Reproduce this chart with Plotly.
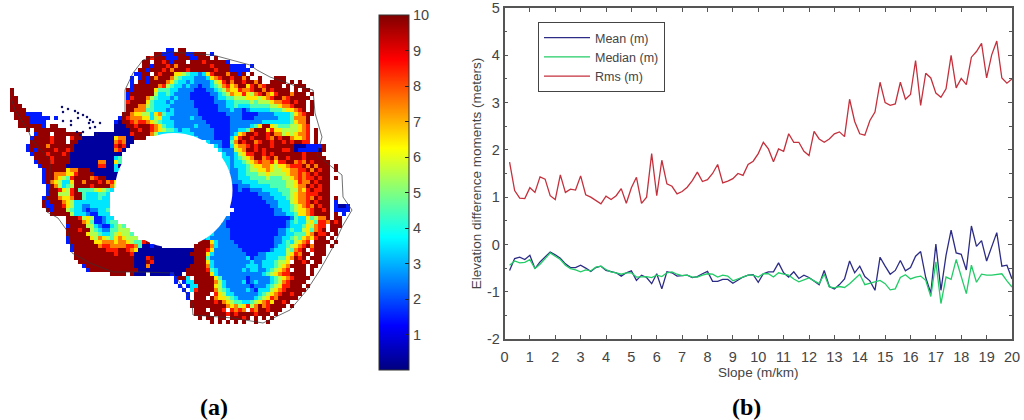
import plotly.graph_objects as go

# ---------- panel (b) data ----------
slope = [round(0.2 * i, 1) for i in range(1, 101)]
mean_m = [-.55,-.30,-.27,-.32,-.23,-.51,-.37,-.27,-.16,-.22,-.29,-.41,-.49,-.49,-.44,-.50,-.57,-.49,-.46,-.55,
          -.58,-.60,-.67,-.60,-.56,-.76,-.65,-.70,-.83,-.62,-.94,-.58,-.60,-.67,-.66,-.65,-.70,-.68,-.62,-.57,
          -.78,-.78,-.74,-.74,-.82,-.75,-.69,-.65,-.64,-.80,-.62,-.58,-.58,-.39,-.60,-.69,-.58,-.72,-.65,-.70,
          -.77,-.85,-.55,-.89,-.94,-.85,-.73,-.35,-.60,-.46,-.68,-.77,-.97,-.27,-.46,-.63,-.55,-.34,-.56,-.49,
          -.25,-.15,-.70,-1.03,.01,-.97,-.23,.30,-.18,-.21,-.54,.39,-.04,.08,-.35,-.06,.25,-.46,-.44,-.73]
median_m = [-.44,-.35,-.39,-.38,-.32,-.51,-.42,-.30,-.18,-.25,-.32,-.44,-.51,-.54,-.58,-.54,-.56,-.48,-.46,-.53,
            -.58,-.60,-.63,-.60,-.60,-.69,-.68,-.68,-.70,-.65,-.68,-.60,-.58,-.63,-.66,-.65,-.69,-.69,-.65,-.62,
            -.63,-.69,-.65,-.67,-.77,-.73,-.68,-.65,-.65,-.69,-.62,-.62,-.69,-.60,-.63,-.65,-.73,-.79,-.75,-.71,
            -.77,-.83,-.63,-.90,-.92,-.89,-.91,-.83,-.73,-.63,-.85,-.82,-.80,-.76,-.83,-.96,-.94,-.70,-.64,-.73,
            -.69,-.67,-.76,-1.10,-.37,-1.25,-.69,-.74,-.32,-.70,-1.04,-.44,-.80,-.63,-.65,-.65,-.63,-.62,-.77,-.90]
rms_m = [1.74,1.14,.98,.97,1.20,1.10,1.43,1.38,1.03,.95,1.47,1.10,1.17,1.15,1.45,1.05,1.00,.93,.86,1.02,
         .95,1.03,1.18,.87,1.20,1.42,.87,1.00,1.92,1.03,1.78,1.28,1.23,1.07,1.12,1.21,1.35,1.53,1.33,1.37,
         1.50,1.69,1.30,1.34,1.39,1.50,1.46,1.69,1.76,1.92,2.16,2.02,1.75,2.02,1.97,2.34,2.16,2.16,1.97,1.88,
         2.39,2.23,2.16,2.23,2.34,2.38,2.28,3.07,2.60,2.34,2.31,2.62,2.80,3.43,3.00,2.94,2.97,3.43,3.07,3.17,
         3.89,2.94,3.62,3.52,3.20,3.11,3.29,4.00,3.31,3.51,3.38,3.96,4.08,4.25,3.52,4.01,4.30,3.52,3.41,3.50]
x_ticks = list(range(0, 21))
y_ticks = list(range(-2, 6))
bar_ticks = list(range(1, 11))

# ---------- panel (a) data: one digit per map cell, '.' = no data ----------
map_levels = [0.3, 1.5, 2.5, 3.5, 4.5, 5.5, 6.5, 7.5, 8.5, 9.8]
map_rows = [
"..... ..... ..... ..... ..... ..... ..... ..... .11.9 9.... ..... ..... ..... ..... ..... ..... ..... .....",
"..... ..... ..... ..... ..... ..... ..... ...99 11199 91199 9.1.. ..... ..... ..... ..... ..... ..... .....",
"..... ..... ..... ..... ..... ..... ..... .9899 91119 99119 99.9. ..... ..... ..... ..... ..... ..... .....",
"..... ..... ..... ..... ..... ..... ..... 99.99 89199 9.999 89999 91... ..... ..... ..... ..... ..... .....",
"..... ..... ..... ..... ..... ..... ..... 99199 98979 99999 99899 99111 1.1.. ..... ..... ..... ..... .....",
"..... ..... ..... ..... ..... ..... ....9 91999 89799 98999 99989 99111 11... ..... ..... ..... ..... .....",
"..... ..... ..... ..... ..... ..... ...11 99.98 99966 54332 36899 97991 9.9.. ..... ..... ..... ..... .....",
"..... ..... ..... ..... ..... ..... ..1.1 91979 99754 33322 23678 99899 79..9 ...99 9.... ..... ..... .....",
"..... ..... ..... ..... ..... ..... ..1.9 91999 97643 32322 22356 89799 89979 ..999 9.9.9 ..... ..... .....",
"..... ..... ..... ..... ..... ..... ..199 99997 85433 23221 22345 78679 96897 89999 .9.99 9.... ..... .....",
"..9.. ..... ..... ..... ..... ..... .9199 99964 44332 22211 12234 57668 77899 79899 99.9. 99... ..... .....",
"..9.. ..... ..... ..... ..... ..... .1999 99953 34322 22111 11223 45766 86578 97689 99799 9.9.. ..... .....",
"..99. ..... ..... ..... ..... ..... .1899 97543 33232 22111 11123 34455 56665 67899 78999 99... ..... .....",
"..99. ..... ..... ..... ..... ..... .8999 96433 32322 22211 11122 23344 44545 55677 88989 9.9.. ..... .....",
"..999 ..... ..... ..... ..... ..... .9997 75433 33222 22211 11112 23343 33444 44556 77899 9.9.. ..... .....",
"..999 9.... ..... ..... ..... ..... .9977 74433 32322 22221 11112 22322 12333 33444 56678 9.9.. ..... .....",
"...99 91111 ..... ..... ..... ..... 99766 55367 43322 22221 11111 12222 11112 22233 33467 899.. ..... .....",
"...99 99111 11.1. ..... ..... ....1 98777 66356 33222 22322 11111 11222 11122 22223 33477 79... ..... .....",
"....9 99111 1.... ..... ..... ...10 99878 87654 33322 22222 21111 11222 22222 33333 33467 79... ..... .....",
"....9 99999 1.99. ..... ..... ...00 09989 99876 43322 22232 22111 11222 22346 99654 44556 78... ..... .....",
"..... .9.99 99999 9.... ..... ...00 00998 99876 54432 33222 22211 11223 34799 96866 55556 78.9. ..... .....",
"..... ...19 99.99 99999 ...00 00000 00899 99753 33333 33322 22211 11236 79989 98977 56567 78.9. ..... .....",
"..... ..199 99899 9.899 00000 00067 70099 9.... ..... ...32 22211 11368 99899 98798 99766 78.9. ..... .....",
"..... ..999 99899 9.990 00000 00078 700.. ..... ..... ..... .3222 11479 89978 99899 89899 88.9. ..... .....",
"..... .1999 97999 99900 00000 00089 80... ..... ..... ..... ...32 11367 78989 99899 99900 01111 9.... .....",
"..... .1919 99989 98900 00000 00078 0.... ..... ..... ..... ....3 22256 79989 89999 88901 11110 9.... .....",
"..... ..199 98999 89000 00000 00000 ..... ..... ..... ..... ..... 32235 68899 89899 99999 89999 ..... .....",
"..... ...99 99899 99000 00000 00034 ..... ..... ..... ..... ..... 33234 56799 78979 98999 89999 9.... .....",
"..... ...19 99899 99000 00007 70064 ..... ..... ..... ..... ..... 33233 45678 77868 89978 79899 99... .....",
"..... ....1 99999 90000 00008 80030 ..... ..... ..... ..... ..... 33233 34566 77656 67888 97979 99.9. .....",
"..... ..... 19999 96779 99000 00033 ..... ..... ..... ..... ..... 33223 34556 67655 66778 89798 99.9. .....",
"..... ..... 19977 76689 99900 00003 ..... ..... ..... ..... ..... 32223 34445 56555 56778 78989 99... .....",
"..... ..... 19976 54899 99789 9000. ..... ..... ..... ..... ..... 22223 33444 45444 55678 78898 99.9. .....",
"..... ..... 19765 33699 79998 97860 ..... ..... ..... ..... ..... 22222 33334 44444 45568 77989 99... .....",
"..... ..... .1975 34599 99899 99750 ..... ..... ..... ..... ..... 21112 22333 33444 45567 79898 99... .....",
"..... ..... .1998 65894 44456 543.. ..... ..... ..... ..... ..... ..112 11222 33334 44557 68988 99... .....",
"..... ..... .1995 55899 43334 43... ..... ..... ..... ..... ..... ..111 11112 22333 44567 78889 99... .....",
"..... ..... 19997 66799 43334 33... ..... ..... ..... ..... ..... ..111 11111 22233 34567 78798 99.9. .....",
"..... ..... 91999 76533 33333 33... ..... ..... ..... ..... ..... ..111 11111 12223 33567 78989 99.1. .....",
"..... ..... 91199 86533 22333 33... ..... ..... ..... ..... ..... ..111 11111 11223 33456 78798 99.10 01...",
"..... ..... .9199 95433 21223 34... ..... ..... ..... ..... ..... ...11 11111 11122 33456 67899 89.11 11...",
"..... ..... ..999 99533 32113 33... ..... ..... ..... ..... ..... ..111 11111 11122 23346 67899 99.9. 1....",
"..... ..... ..... .9998 56511 233.. ..... ..... ..... ..... ..... 22111 11111 11111 11243 36457 79.99 .....",
"..... ..... ..... .9999 76411 2344. ..... ..... ..... ..... ...11 21111 11111 11111 12343 35648 87989 .....",
"..... ..... ..... .1999 95532 11345 4.... ..... ..... ..... ...22 21111 11111 11111 12333 46578 8.999 .....",
"..... ..... ..... .9998 99543 22445 55... ..... ..... ..... ..222 22111 11111 11112 23433 56478 9.99. .....",
"..... ..... ..... .9999 96554 33456 554.. ..... ..... ..... .3322 22111 11111 11112 23344 46798 89.9. .....",
"..... ..... ..... .1999 99657 65467 6555. ..... ..... ..... 23222 22111 11111 11122 33454 67689 9.9.. .....",
"..... ..... ..... .1999 99966 77767 76544 89... ..... ....9 99632 22211 11111 11122 34356 78.99 99.9. .....",
"..... ..... ..... ..199 99997 88777 78874 00100 ..... ...99 99732 22221 11111 11123 34567 89799 9.9.. .....",
"..... ..... ..... ..199 99999 98889 98760 00000 00000 00099 98622 22222 11111 11233 35478 9.899 9.... .....",
"..... ..... ..... ...99 99999 99989 99800 00000 00000 00999 96322 22222 21112 23333 35687 99.99 9.... .....",
"..... ..... ..... ...99 99999 99999 99900 08900 00000 00099 94222 22222 23122 23334 46798 9.999 ..... .....",
"..... ..... ..... ....9 99999 99999 99900 09800 00000 00099 96322 22222 22322 33345 56.99 89.99 ..... .....",
"..... ..... ..... ..... 19999 99999 99900 07000 00000 00999 97322 22222 23332 33345 67999 9.99. ..... .....",
"..... ..... ..... ..... .1999 99999 99990 00000 00000 09999 98432 22222 32332 23456 78.99 9.9.. ..... .....",
"..... ..... ..... ..... ..... ..999 9.900 0.000 00100 .9999 99632 22222 22222 34567 88999 9.9.. ..... .....",
"..... ..... ..... ..... ..... ..... ..... ..... ...19 93.99 99964 22222 21222 22345 67899 99... ..... .....",
"..... ..... ..... ..... ..... ..... ..... ..... ...1. 13399 99975 32222 31232 22345 78999 9.... ..... .....",
"..... ..... ..... ..... ..... ..... ..... ..... ....1 .1339 99965 32222 22122 23456 88999 .9... ..... .....",
"..... ..... ..... ..... ..... ..... ..... ..... ..... 1.389 99975 43222 23213 33567 89999 9.... ..... .....",
"..... ..... ..... ..... ..... ..... ..... ..... ..... .1.99 99.86 53322 22223 45678 99899 ..... ..... .....",
"..... ..... ..... ..... ..... ..... ..... ..... ..... .1.99 9.976 65432 22234 56879 9999. ..... ..... .....",
"..... ..... ..... ..... ..... ..... ..... ..... ..... ..999 99989 76544 33456 78699 89... ..... ..... .....",
"..... ..... ..... ..... ..... ..... ..... ..... ..... ..999 99999 97675 68579 78999 9.9.. ..... ..... .....",
"..... ..... ..... ..... ..... ..... ..... ..... ..... ...99 9.999 8.878 7.879 98999 ..... ..... ..... .....",
"..... ..... ..... ..... ..... ..... ..... ..... ..... ...99 99.99 98989 99989 99.9. ..... ..... ..... .....",
"..... ..... ..... ..... ..... ..... ..... ..... ..... ....9 .99.9 9.999 89.9. 9.9.. ..... ..... ..... .....",
"..... ..... ..... ..... ..... ..... ..... ..... ..... ..... ..9.9 .9.9. 9..9. .9... ..... ..... ..... .....",
]
coast_x = [12,11,15,28,32,50,50,45,47,58,68,72,90,113,140,173,180,192,193,217,233,263,290,307,320,333,342,352,343,342,317,322,315,313,293,270,257,250,213,170,143,133,125,125,125]
coast_y = [90,98,110,130,140,160,187,203,212,218,232,253,263,272,272,273,283,303,315,317,318,323,310,290,270,247,227,210,197,175,155,137,113,90,85,77,70,65,55,52,60,73,90,103,117]
dots_x = [62,68,63,75,78,83,87,63,71,71,78,90,93,89,100,90,95,77,83,80,97]
dots_y = [107,109,112,111,113,115,117,121,121,125,118,120,122,123,123,128,127,132,132,135,134]

z = [[map_levels[int(c)] if c != "." else None for c in r.replace(" ", "")] for r in map_rows]

W, H = 1024, 420
jet = [[0, "rgb(0,0,128)"], [0.125, "rgb(0,0,255)"], [0.375, "rgb(0,255,255)"],
       [0.625, "rgb(255,255,0)"], [0.875, "rgb(255,0,0)"], [1, "rgb(128,0,0)"]]
ink = "#444444"
sans = "Liberation Sans"

fig = go.Figure()
fig.add_trace(go.Heatmap(
    z=z, x0=4, dx=4, y0=50, dy=4, zmin=0, zmax=10, colorscale=jet, hoverongaps=False,
    xaxis="x2", yaxis="y2", showlegend=False,
    colorbar=dict(x=379 / W, xanchor="left", y=1 - 15 / H, yanchor="top", xpad=0, ypad=0,
                  thicknessmode="pixels", thickness=30, lenmode="pixels", len=355,
                  tickvals=bar_ticks, ticks="inside", ticklen=4, tickcolor="#222222",
                  outlinecolor="#333333", outlinewidth=1,
                  tickfont=dict(family=sans, size=14.5, color=ink)),
))
fig.add_trace(go.Scatter(x=coast_x, y=coast_y, mode="lines", xaxis="x2", yaxis="y2", showlegend=False,
                         line=dict(color="#333333", width=0.7)))
fig.add_trace(go.Scatter(x=dots_x, y=dots_y, mode="markers", xaxis="x2", yaxis="y2", showlegend=False,
                         marker=dict(color="#10106f", size=2.5)))
fig.add_shape(type="circle", xref="x2", yref="y2", x0=115, x1=232.5, y0=133, y1=247.5,
              fillcolor="white", line=dict(color="white", width=0))

for name, vals, col in [("Mean (m)", mean_m, "#2c2c86"), ("Median (m)", median_m, "#22cc66"),
                        ("Rms (m)", rms_m, "#c4303c")]:
    fig.add_trace(go.Scatter(x=slope, y=vals, mode="lines", name=name, line=dict(color=col, width=1.3)))

axis_common = dict(showgrid=False, zeroline=False, showline=True, linecolor="#555555", linewidth=1.5,
                   mirror="allticks", ticks="inside", ticklen=4, tickcolor="#555555",
                   ticklabeloverflow="allow",
                   tickfont=dict(family=sans, size=14.5, color=ink))
fig.update_layout(
    width=W, height=H, autosize=False, margin=dict(l=0, r=0, t=0, b=0, autoexpand=False),
    paper_bgcolor="white", plot_bgcolor="white",
    xaxis=dict(domain=[504.5 / W, 1012 / W], range=[0, 20], tickvals=x_ticks, ticklabelstandoff=4,
               title=dict(text="Slope (m/km)", font=dict(family=sans, size=13.5, color=ink), standoff=2),
               **axis_common),
    yaxis=dict(domain=[1 - 339 / H, 1 - 8 / H], range=[-2, 5], tickvals=y_ticks,
               ticktext=[str(v) for v in y_ticks],
               minor=dict(dtick=0.5, ticks="inside", ticklen=3, tickcolor="#555555"),
               title=dict(text="Elevation difference moments (meters)",
                          font=dict(family=sans, size=13.5, color=ink), standoff=2),
               **axis_common),
    xaxis2=dict(domain=[0, 365 / W], range=[0, 365], visible=False, anchor="y2"),
    yaxis2=dict(domain=[1 - 380 / H, 1], range=[380, 0], visible=False, anchor="x2"),
    legend=dict(x=538 / W, y=1 - 22 / H, xanchor="left", yanchor="top", bgcolor="white",
                bordercolor="#444444", borderwidth=1, itemwidth=46,
                font=dict(family=sans, size=12.5, color=ink)),
    annotations=[
        dict(text="<b>(a)</b>", x=214 / W, y=1 - 407 / H, xref="paper", yref="paper", showarrow=False,
             xanchor="center", yanchor="middle",
             font=dict(family="Liberation Serif", size=24, color="black")),
        dict(text="<b>(b)</b>", x=746 / W, y=1 - 407 / H, xref="paper", yref="paper", showarrow=False,
             xanchor="center", yanchor="middle",
             font=dict(family="Liberation Serif", size=24, color="black")),
    ],
)
fig.write_html("out.html", config={"displayModeBar": False},
               post_script="document.body.style.margin='0';window.dispatchEvent(new Event('resize'));")
